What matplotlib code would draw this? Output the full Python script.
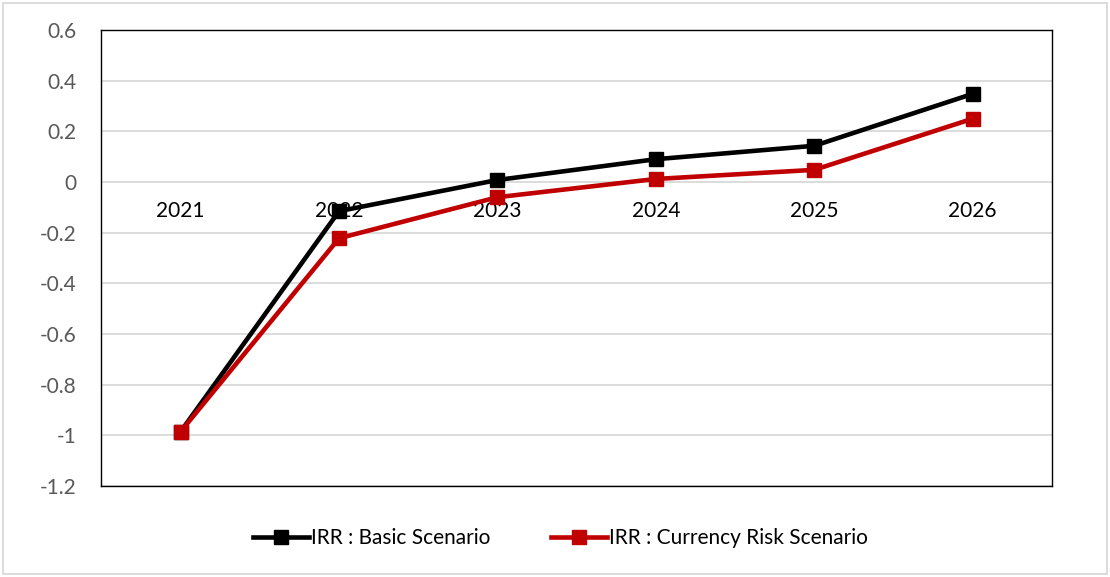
import matplotlib
matplotlib.use("Agg")
import matplotlib.pyplot as plt
from matplotlib.patches import Rectangle

years = ["2021", "2022", "2023", "2024", "2025", "2026"]
irr_basic = [-0.985, -0.115, 0.008, 0.09, 0.143, 0.348]
irr_currency = [-0.985, -0.222, -0.06, 0.012, 0.048, 0.25]
y_ticks = [0.6, 0.4, 0.2, 0, -0.2, -0.4, -0.6, -0.8, -1, -1.2]

plt.rcParams["font.family"] = ["Lato", "DejaVu Sans"]

fig = plt.figure(figsize=(11.1, 5.77), dpi=100)
ax = fig.add_axes([0.0914, 0.1577, 0.8563, 0.7903])

x = list(range(len(years)))
ax.set_xlim(-0.5, len(years) - 0.5)
ax.set_ylim(-1.2, 0.6)
ax.set_yticks(y_ticks)
ax.set_yticklabels([f"{v:g}" for v in y_ticks])
ax.grid(axis="y", color="#d9d9d9", linewidth=1.3)
ax.set_axisbelow(True)
ax.set_xticks([])
ax.tick_params(axis="y", length=0, pad=18, labelsize=15, labelcolor="#595959")
for s in ax.spines.values():
    s.set_color("black")
    s.set_linewidth(1.0)

for i, yr in enumerate(years):
    ax.text(i, -0.075, yr, ha="center", va="top", fontsize=15, color="black")

ax.plot(x, irr_basic, color="black", linewidth=3.3, marker="s", markersize=10,
        label="IRR : Basic Scenario", zorder=3)
ax.plot(x, irr_currency, color="#c00000", linewidth=3.3, marker="s", markersize=10,
        label="IRR : Currency Risk Scenario", zorder=4)

fig.legend(loc="center", bbox_to_anchor=(0.505, 0.067), ncol=2, frameon=False,
           fontsize=15, handlelength=2.7, handletextpad=0.1, columnspacing=2.9)

fig.patches.append(Rectangle((0.003, 0.005), 0.994, 0.99, transform=fig.transFigure,
                             fill=False, edgecolor="#d9d9d9", linewidth=1.3))

fig.savefig("out.png", dpi=100)
